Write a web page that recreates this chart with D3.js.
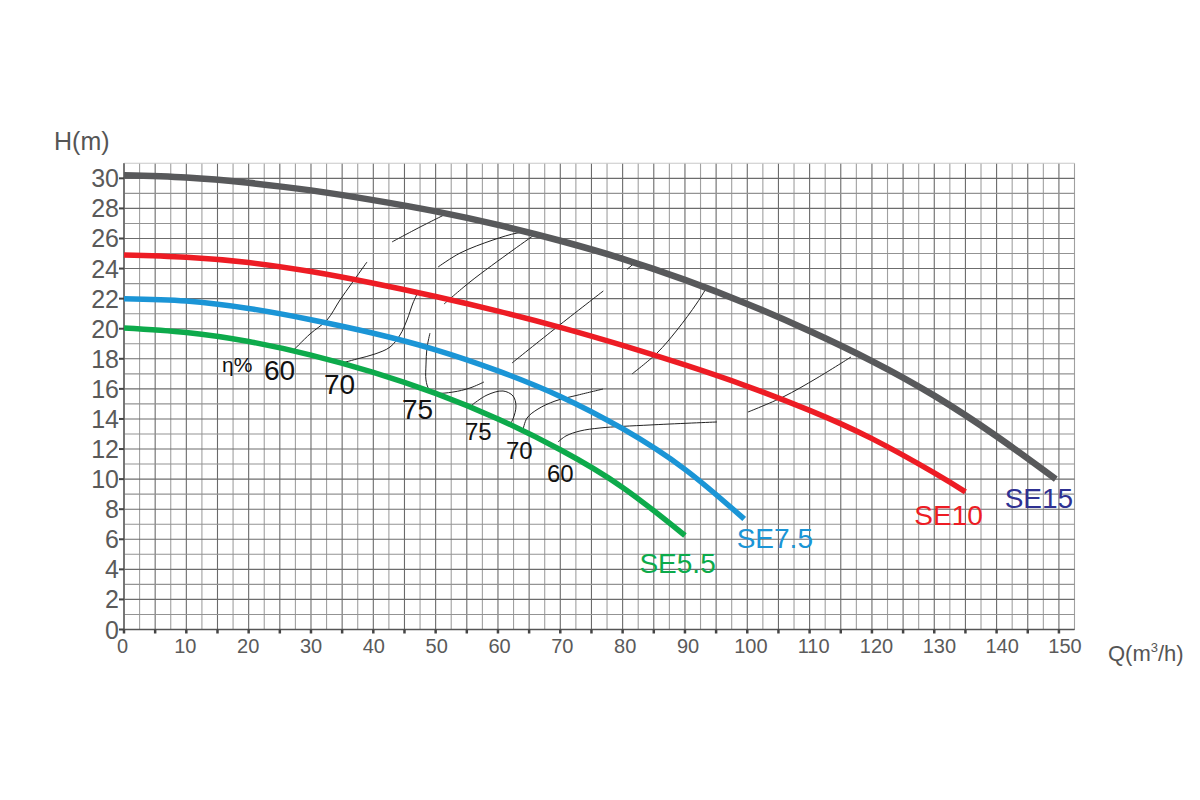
<!DOCTYPE html>
<html><head><meta charset="utf-8">
<script src="https://cdn.jsdelivr.net/npm/d3@7"></script>
<style>body{margin:0;background:#fff}svg{display:block}text{font-family:"Liberation Sans",Arial,sans-serif}</style>
</head><body><svg id="c" width="1200" height="800"></svg>
<script>
// ---- data ----
const xTicks = [0,10,20,30,40,50,60,70,80,90,100,110,120,130,140,150];
const yTicks = [0,2,4,6,8,10,12,14,16,18,20,22,24,26,28,30];

const se15Q = [0,10,20,30,40,50,60,70,80,90,100,110,120,130,140,149.5];
const se15H = [30.2,30.05,29.7,29.2,28.55,27.8,26.9,25.85,24.65,23.25,21.65,19.85,17.85,15.55,12.85,10.0];
const se10Q = [0,10,20,30,40,50,60,70,80,90,100,110,120,130,135];
const se10H = [24.9,24.75,24.4,23.8,23.02,22.14,21.17,20.09,18.89,17.59,16.17,14.57,12.69,10.41,9.15];
const se75Q = [0,10,20,30,40,50,60,70,80,90,99.5];
const se75H = [22.0,21.85,21.35,20.6,19.7,18.6,17.2,15.5,13.35,10.65,7.35];
const se55Q = [0,10,20,30,40,50,60,70,80,90];
const se55H = [20.05,19.75,19.15,18.25,17.1,15.7,14.0,11.95,9.45,6.25];

const seriesNames = ["SE15","SE10","SE7.5","SE5.5"];

// iso-efficiency lines [Q,H]
const eff60a = [[26.95,18.47],[29.84,19.65],[32.57,20.58],[34.65,21.91],[36.58,23.04],[38.99,24.44]];
const eff70a = [[34.33,17.65],[37.38,17.99],[40.27,18.32],[42.68,18.78],[44.28,19.58],[45.40,20.58],[46.37,21.71],[47.17,22.44]];
const eff75a = [[49.09,19.71],[48.61,18.72],[48.45,17.59],[48.45,16.59],[48.93,15.99],[50.06,15.73],[52.78,15.79],[55.51,16.06],[57.76,16.46]];
const eff75b = [[55.83,14.93],[58.24,15.59],[60.81,15.86],[62.41,15.53],[62.89,14.86],[62.41,14.00],[61.77,13.53]];
const eff70b = [[64.01,13.26],[64.66,14.06],[66.42,14.66],[69.15,15.19],[72.84,15.59],[76.85,15.99]];
const eff60b = [[69.63,12.47],[70.91,12.87],[73.16,13.20],[76.37,13.40],[84.39,13.60],[95.14,13.80]];
const effU1 = [[43.00,25.77],[47.49,26.76],[52.30,27.76]];
const effU2 = [[50.38,24.10],[53.91,25.03],[59.20,25.90],[63.05,26.36],[65.14,26.43]];
const effU3 = [[51.34,21.64],[55.51,23.11],[62.41,25.23],[66.26,26.36]];
const effU4 = [[62.25,17.72],[69.47,20.11],[76.90,22.51]];
const effU5 = [[80.70,23.95],[82.14,24.45]];
const effU6 = [[81.50,16.99],[85.51,18.38],[88.72,19.91],[91.93,21.71],[93.53,22.77]];
const effU7 = [[100.11,14.46],[105.73,15.46],[111.18,16.72],[116.64,18.12]];

const effLabelsA = ["60","70","75"];
const effLabelsB = ["75","70","60"];

// ---- drawing ----
const svg = d3.select("#c");
const x = d3.scaleLinear().domain([0,152.5]).range([124,1074.5]);
const y = d3.scaleLinear().domain([0,31]).range([629.5,163.3]);
const xLab = d3.scaleLinear().domain([0,150]).range([122.5,1065]);

const g = svg.append("g");
// grid
const vLines = d3.range(0,152.6,2.5);
g.selectAll(".vg").data(vLines).join("line")
  .attr("x1",d=>x(d)).attr("x2",d=>x(d)).attr("y1",y(0)).attr("y2",y(31))
  .attr("stroke",d=>(Math.round(d*2)%10===0)?"#6a6a6a":"#a0a0a0").attr("stroke-width",1.1);
const hLines = d3.range(0,31.1,1);
g.selectAll(".hg").data(hLines).join("line")
  .attr("x1",x(0)).attr("x2",x(152.5)).attr("y1",d=>y(d)).attr("y2",d=>y(d))
  .attr("stroke",d=>d===31?"#c8c8c8":(d%2===0?"#6c6c6c":"#939393")).attr("stroke-width",1.1);

// axes lines
g.append("line").attr("x1",x(0)).attr("x2",x(0)).attr("y1",y(0)).attr("y2",y(31)).attr("stroke","#666").attr("stroke-width",1.5);
g.append("line").attr("x1",x(0)).attr("x2",x(152.5)).attr("y1",y(0)).attr("y2",y(0)).attr("stroke","#555").attr("stroke-width",1.5);

// x tick marks every 5
g.selectAll(".xt").data(d3.range(0,151,5)).join("line")
  .attr("x1",d=>x(d)).attr("x2",d=>x(d)).attr("y1",y(0)).attr("y2",y(0)+4)
  .attr("stroke","#444").attr("stroke-width",2.5);
// y tick marks
g.selectAll(".yt").data(yTicks).join("line")
  .attr("x1",x(0)-5).attr("x2",x(0)).attr("y1",d=>y(d)).attr("y2",d=>y(d))
  .attr("stroke","#444").attr("stroke-width",2);

// tick labels
g.selectAll(".xl").data(xTicks).join("text")
  .attr("x",d=>xLab(d)).attr("y",653).attr("text-anchor","middle")
  .attr("font-size",20).attr("fill","#5a5a5a").text(d=>d);
g.selectAll(".yl").data(yTicks).join("text")
  .attr("x",119).attr("y",d=>y(d)).attr("dy","0.36em").attr("text-anchor","end")
  .attr("font-size",25).attr("fill","#5a5a5a").text(d=>d);

// axis titles
svg.append("text").attr("x",54).attr("y",150).attr("font-size",25).attr("fill","#555").text("H(m)");
const qt = svg.append("text").attr("x",1108).attr("y",661).attr("font-size",22).attr("fill","#555");
qt.append("tspan").text("Q(m");
qt.append("tspan").attr("font-size",13).attr("dy",-9).text("3");
qt.append("tspan").attr("dy",9).text("/h)");

// efficiency lines
const effLine = d3.line().x(d=>x(d[0])).y(d=>y(d[1])).curve(d3.curveCatmullRom.alpha(0.5));
const effAll = [eff60a,eff70a,eff75a,eff75b,eff70b,eff60b,effU1,effU2,effU3,effU4,effU5,effU6,effU7];
g.selectAll(".eff").data(effAll).join("path")
  .attr("d",effLine).attr("fill","none").attr("stroke","#222").attr("stroke-width",1);

// pump curves
const curveLine = d3.line().x(d=>x(d[0])).y(d=>y(d[1])).curve(d3.curveNatural);
const series = [
  {name:seriesNames[0], q:se15Q, h:se15H, color:"#58595b", w:6.5, lc:"#2e3192", lx:141.3, ly:8.05},
  {name:seriesNames[1], q:se10Q, h:se10H, color:"#ed1c24", w:5.5, lc:"#ed1c24", lx:126.8, ly:6.95},
  {name:seriesNames[2], q:se75Q, h:se75H, color:"#1b95d6", w:5.5, lc:"#1b95d6", lx:98.3, ly:5.4},
  {name:seriesNames[3], q:se55Q, h:se55H, color:"#0daa4b", w:5.5, lc:"#0daa4b", lx:82.7, ly:3.75}
];
series.forEach(s=>{
  const pts = s.q.map((q,i)=>[q,s.h[i]]);
  g.append("path").attr("d",curveLine(pts)).attr("fill","none")
    .attr("stroke",s.color).attr("stroke-width",s.w);
  svg.append("text").attr("x",x(s.lx)).attr("y",y(s.ly)).attr("font-size",28)
    .attr("fill",s.lc).text(s.name);
});

// efficiency labels
svg.append("text").attr("x",222).attr("y",372).attr("font-size",21).attr("fill","#111").text("η%");
const posA = [[264,380],[324,394],[402,419]];
effLabelsA.forEach((t,i)=>svg.append("text").attr("x",posA[i][0]).attr("y",posA[i][1]).attr("font-size",28).attr("fill","#111").text(t));
const posB = [[465,440],[506,459],[547,482]];
effLabelsB.forEach((t,i)=>svg.append("text").attr("x",posB[i][0]).attr("y",posB[i][1]).attr("font-size",24).attr("fill","#111").text(t));
</script></body></html>
